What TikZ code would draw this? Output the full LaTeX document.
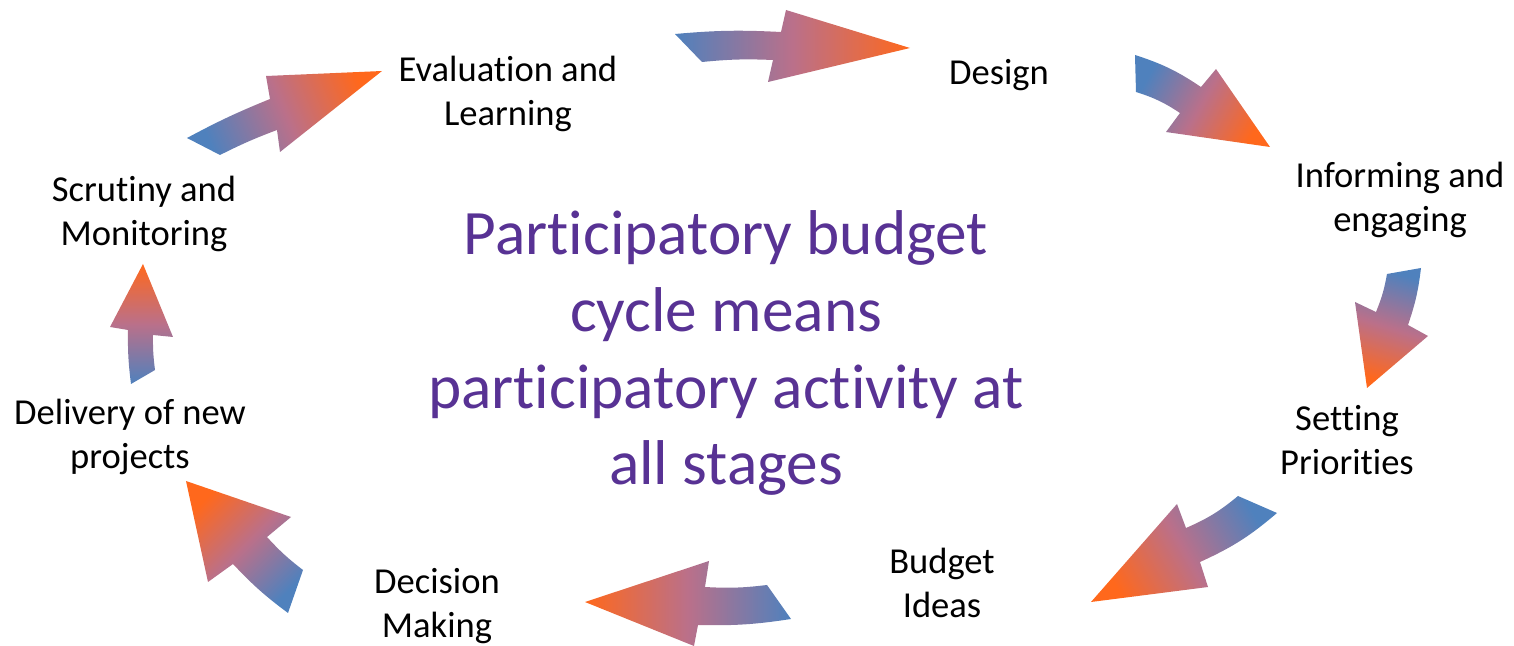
\documentclass[tikz,border=0pt]{standalone}
\usepackage{fontspec}
\setmainfont{Carlito}[Ligatures=CommonOff]
\usepackage{xcolor}
\definecolor{tailblue}{RGB}{79,129,189}
\definecolor{headorange}{RGB}{255,104,28}
\definecolor{midmauve}{RGB}{186,112,138}
\definecolor{cyclepurple}{RGB}{88,50,148}

\begin{document}
\begin{tikzpicture}[
    stage/.style={align=center,font=\fontsize{10.4}{12.5}\selectfont},
    blockarrow/.style={draw=none,top color=tailblue,bottom color=headorange,
      middle color=midmauve,shading angle=#1}
  ]
    \useasboundingbox (0,0) rectangle (15.14,6.46);

    % stages
    \node[stage] (eval) at (5.08, 5.52) {Evaluation and\\Learning};
    \node[stage] (design) at (9.99, 5.71) {Design};
    \node[stage] (inform) at (14.00, 4.46) {Informing and\\engaging};
    \node[stage] (prio) at (13.47, 2.06) {Setting\\Priorities};
    \node[stage] (ideas) at (9.42, 0.63) {Budget\\Ideas};
    \node[stage] (decide) at (4.37, 0.40) {Decision\\Making};
    \node[stage] (deliver) at (1.30, 2.09) {Delivery of new\\projects};
    \node[stage] (scrutiny) at (1.44, 4.32) {Scrutiny and\\Monitoring};

    \node[align=center,text=cyclepurple,font=\fontsize{18}{21.9}\selectfont] (cycle) at (7.26, 2.93)
      {Participatory budget\\cycle means\\participatory activity at\\all stages};

    % arrows
    \shade[blockarrow=90] (6.75,6.12) to[bend left=4] (7.81,6.14) -- (7.86,6.36) -- (9.10,5.98)
      -- (7.68,5.64) -- (7.73,5.86) to[bend right=4] (7.02,5.84) -- cycle;
    \shade[blockarrow=61] (11.35,5.91) to[bend left=8] (12.01,5.59) -- (12.16,5.77) -- (12.70,4.99)
      -- (11.66,5.14) -- (11.80,5.33) to[bend right=8] (11.36,5.54) -- cycle;
    \shade[blockarrow=-17] (14.21,3.78) to[bend left=6] (14.08,3.21) -- (14.28,3.10) -- (13.67,2.58)
      -- (13.55,3.44) -- (13.76,3.34) to[bend right=6] (13.87,3.72) -- cycle;
    \shade[blockarrow=-60] (12.77,1.33) to[bend left=8] (12.00,0.84) -- (12.08,0.59) -- (10.91,0.44)
      -- (11.77,1.42) -- (11.86,1.18) to[bend right=8] (12.38,1.50) -- cycle;
    \shade[blockarrow=-90] (7.91,0.27) to[bend left=5] (6.98,0.21) -- (6.94,0.00) -- (5.85,0.44)
      -- (7.09,0.85) -- (7.05,0.59) to[bend right=5] (7.67,0.61) -- cycle;
    \shade[blockarrow=225] (2.88,0.33) to[bend left=5] (2.33,0.82) -- (2.08,0.64) -- (1.86,1.65)
      -- (2.91,1.29) -- (2.67,1.09) to[bend right=5] (3.03,0.76) -- cycle;
    \shade[blockarrow=180] (1.31,2.62) to[bend left=4] (1.28,3.16) -- (1.10,3.19) -- (1.43,3.82)
      -- (1.73,3.09) -- (1.53,3.11) to[bend right=4] (1.55,2.76) -- cycle;
    \shade[blockarrow=113] (1.87,5.08) to[bend left=3] (2.70,5.47) -- (2.66,5.70) -- (3.82,5.75)
      -- (2.80,4.94) -- (2.77,5.16) to[bend right=3] (2.20,4.91) -- cycle;

  \end{tikzpicture}
\end{document}
